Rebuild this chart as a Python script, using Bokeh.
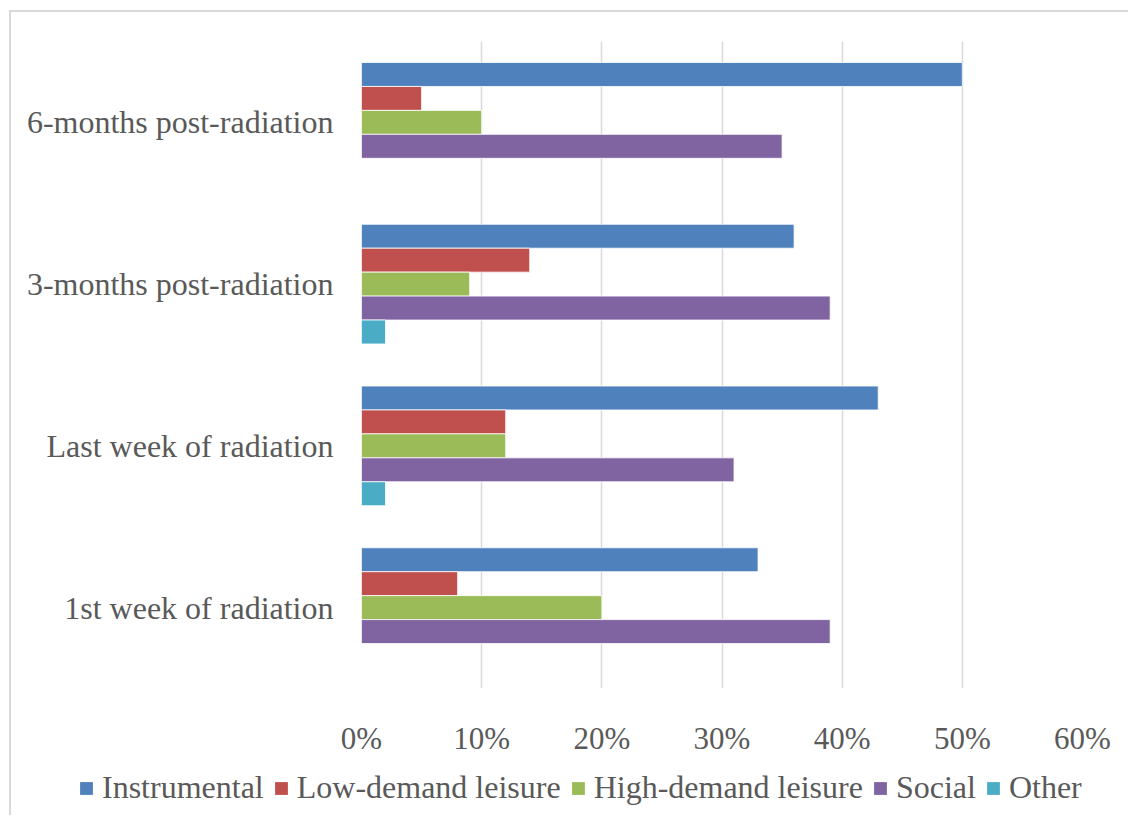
from bokeh.plotting import figure
from bokeh.models import (ColumnDataSource, FactorRange, Range1d, FixedTicker,
                          PrintfTickFormatter, Legend, LegendItem)
from bokeh.transform import dodge
from bokeh.embed import file_html
from bokeh.resources import INLINE

categories = ["1st week of radiation", "Last week of radiation",
              "3-months post-radiation", "6-months post-radiation"]
series = ["Instrumental", "Low-demand leisure", "High-demand leisure", "Social", "Other"]
instrumental = [33, 43, 36, 50]
low_demand = [8, 12, 14, 5]
high_demand = [20, 12, 9, 10]
social = [39, 31, 39, 35]
other = [0, 2, 2, 0]
x_ticks = [0, 10, 20, 30, 40, 50, 60]

colors = ["#4F81BD", "#C0504D", "#9BBB59", "#8064A2", "#4BACC6"]
FONT = "Liberation Serif"
TXT = "#595959"
G = "linear-gradient(#d9d9d9, #d9d9d9)"

source = ColumnDataSource(dict(cat=categories, s0=instrumental, s1=low_demand,
                               s2=high_demand, s3=social, s4=other))

W = 1128
H1 = 760
left, top = 361, 41
fw, fh = 721, 647
p = figure(width=W, height=H1, y_range=FactorRange(*categories, range_padding=0),
           x_range=Range1d(0, 60), output_backend="svg", toolbar_location=None,
           min_border_left=left, min_border_right=W - left - fw,
           min_border_top=top, min_border_bottom=H1 - top - fh)
p.styles = {"background": f"{G} 9px 10px / 2px 100% no-repeat, {G} 9px 10px / 100% 2px no-repeat, white"}
p.outline_line_color = None
p.background_fill_color = "white"
p.border_fill_alpha = 0

bh = 0.148
offsets = [2 * bh, bh, 0, -bh, -2 * bh]
for i, name in enumerate(series):
    p.hbar(y=dodge("cat", offsets[i], range=p.y_range), right=f"s{i}", left=0,
           height=bh, source=source, fill_color=colors[i], line_color="white",
           line_width=0.8)

p.xaxis.ticker = FixedTicker(ticks=x_ticks)
p.xaxis.formatter = PrintfTickFormatter(format="%d%%")
for ax in (p.xaxis[0], p.yaxis[0]):
    ax.axis_line_color = None
    ax.major_tick_line_color = None
    ax.minor_tick_line_color = None
    ax.major_label_text_font = FONT
    ax.major_label_text_color = TXT
p.xaxis.major_label_text_font_size = "31px"
p.yaxis.major_label_text_font_size = "32px"
p.xaxis.major_label_standoff = 26
p.yaxis.major_label_standoff = 22

p.ygrid.grid_line_color = None
p.xgrid.grid_line_color = "#d9d9d9"
p.xgrid.grid_line_width = 1.5

# legend strip (separate root so its frame spans the full width)
H2 = 59
lg = figure(width=W, height=H2, x_range=Range1d(0, 1), y_range=Range1d(0, 1),
            x_axis_type=None, y_axis_type=None, output_backend="svg",
            toolbar_location=None, min_border=0, min_border_left=0,
            min_border_right=0, min_border_top=0, min_border_bottom=0)
lg.styles = {"margin-top": "-4px",
             "background": f"{G} 9px 0px / 2px 100% no-repeat, white"}
lg.outline_line_color = None
lg.background_fill_alpha = 0
lg.border_fill_alpha = 0
# off-screen placeholder glyphs, used only to give the legend its swatches
dummy = ColumnDataSource(dict(y=[-100], l=[-100], r=[-99]))
items = []
for i, name in enumerate(series):
    r = lg.hbar(y="y", left="l", right="r", height=0.1, source=dummy,
                fill_color=colors[i], line_color=None)
    items.append(LegendItem(label=name, renderers=[r]))
legend = Legend(items=items, orientation="horizontal", location=(78, 9),
                label_text_font=FONT, label_text_font_size="32px", label_text_color=TXT,
                glyph_width=16, glyph_height=16, label_standoff=8, spacing=9,
                padding=0, margin=0, border_line_color=None, background_fill_alpha=0)
lg.add_layout(legend, "center")

open("out.html", "w").write(file_html([p, lg], INLINE))
